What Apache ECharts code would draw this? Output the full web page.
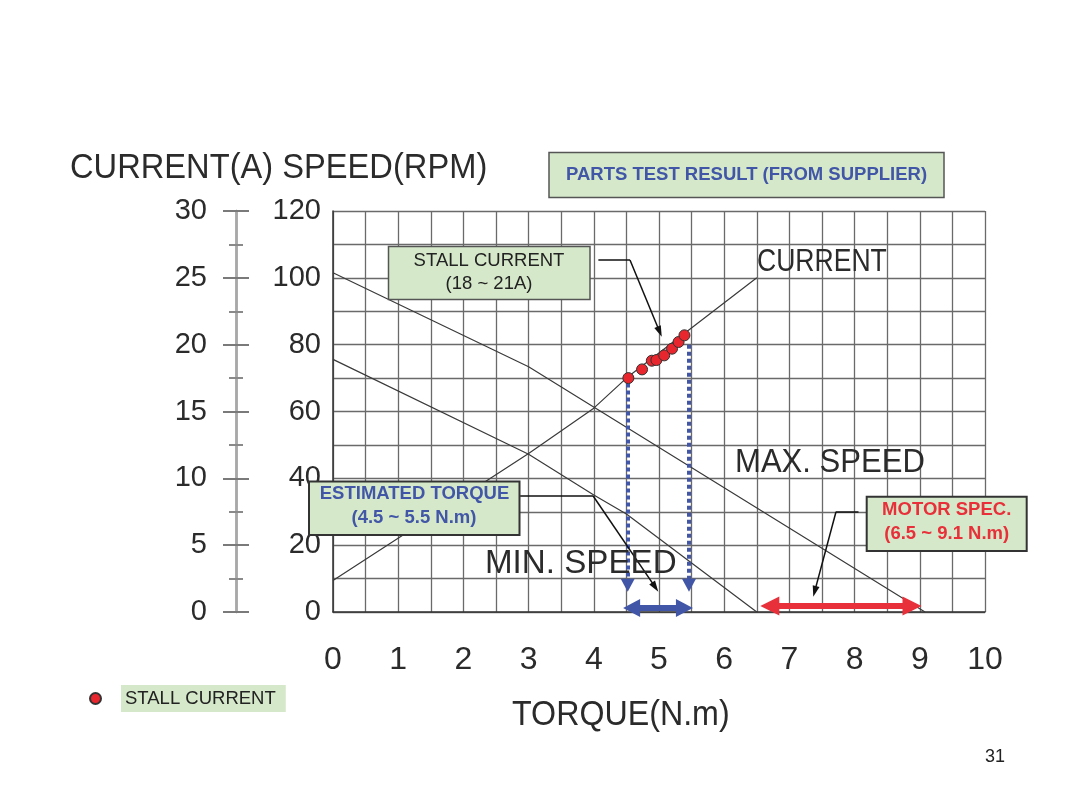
<!DOCTYPE html>
<html><head><meta charset="utf-8">
<script src="https://cdn.jsdelivr.net/npm/echarts@6/dist/echarts.min.js"></script>
<style>html,body{margin:0;padding:0;background:#fff}#c{width:1080px;height:810px}</style>
</head><body><div id="c"></div>
<script>
// ---------- data ----------
const torqueTicks = [0,1,2,3,4,5,6,7,8,9,10];
const currentTicks = [0,5,10,15,20,25,30];
const speedTicks = [0,20,40,60,80,100,120];

const currentTorque = [0, 3, 4, 4.5, 6.5];
const currentAmp    = [2.35, 11.85, 15.25, 17.5, 25.0];
const maxSpeedTorque = [0, 3, 9.08];
const maxSpeedRpm    = [101.5, 73.4, 0];
const minSpeedTorque = [0, 3, 4, 4.5, 6.5];
const minSpeedRpm    = [75.6, 47.2, 35.0, 29.3, 0];
const stallTorque = [4.53, 4.74, 4.89, 4.96, 5.08, 5.20, 5.30, 5.39];
const stallAmp    = [17.5, 18.15, 18.8, 18.85, 19.2, 19.7, 20.2, 20.7];

const dropTorque = [4.52, 5.46];
const dropTopAmp = [17.1, 20.0];
const dropBottomAmp = 2.0;
const estArrowTorque = [4.58, 5.39];
const estArrowAmp = 0.3;
const specArrowTorque = [6.70, 8.88];
const specArrowAmp = 0.45;

// leader lines [torque, current]
const leaderStall = [[4.07, 26.33], [4.555, 26.33], [5.01, 20.97]];
const leaderEst   = [[2.87, 8.68], [3.99, 8.68], [4.942, 1.86]];
const leaderSpec  = [[8.06, 7.50], [7.715, 7.50], [7.388, 1.54]];

// ---------- styles ----------
const CAD = "'Liberation Sans', Arial, sans-serif";
const ARIAL = "'Liberation Sans', Arial, sans-serif";
const BOXFILL = '#d5e8c9';
const BLUE = '#4256a8';
const RED = '#e8303a';
const zip = (a, b) => a.map((v, i) => [v, b[i]]);

function mlSeries(lines, color, width, type, symbol, symbolSize) {
  return {
    type: 'line', data: [], yAxisIndex: 0, silent: true,
    markLine: {
      silent: true, animation: false, symbol: symbol, symbolSize: symbolSize,
      label: { show: false }, emphasis: { disabled: true },
      lineStyle: { color: color, width: width, type: type, opacity: 1 },
      data: lines.map(l => [{ coord: l[0] }, { coord: l[1] }])
    }
  };
}

const chart = echarts.init(document.getElementById('c'));

function cadText(str, x, y, size, sx, align) {
  return { type: 'text', x: x, y: y, scaleX: sx, z: 50,
    style: { text: str, font: size + 'px ' + CAD, fill: '#2b2b2b', align: align || 'left', verticalAlign: 'middle' } };
}
function box(x, y, w, h, stroke, lw, lines, color, weight, size) {
  const els = [{ type: 'rect', z: 100, shape: { x: x, y: y, width: w, height: h },
    style: { fill: BOXFILL, stroke: stroke, lineWidth: lw } }];
  lines.forEach(l => els.push({ type: 'text', z: 101, x: l[1], y: l[2],
    style: { text: l[0], font: weight + ' ' + size + 'px ' + ARIAL, fill: color, align: 'center', verticalAlign: 'middle' } }));
  return els;
}

const option = {
  animation: false,
  backgroundColor: '#ffffff',
  grid: { left: 333, top: 211, width: 652, height: 401 },
  legend: {
    data: ['STALL CURRENT'], left: 89, top: 685, padding: 0,
    icon: 'circle', itemWidth: 11, itemHeight: 11,
    formatter: n => '{g|}{b|' + n + '}',
    textStyle: { fontFamily: ARIAL, fontSize: 18.5, color: '#222', rich: {
      g: { width: 15 },
      b: { fontFamily: ARIAL, fontSize: 18.5, color: '#222', backgroundColor: BOXFILL, padding: [4, 10, 4, 4], lineHeight: 18 }
    } }
  },
  xAxis: {
    type: 'value', min: 0, max: 10, interval: 0.5,
    axisLine: { show: true, onZero: false, lineStyle: { color: '#333', width: 1.5 } },
    axisTick: { show: false },
    axisLabel: { margin: 32, fontFamily: CAD, fontSize: 32, color: '#2b2b2b',
      formatter: v => torqueTicks.includes(v) ? String(v) : '' },
    splitLine: { show: true, lineStyle: { color: '#6a6a6a', width: 1.3 } }
  },
  yAxis: [
    { // current axis (outer)
      type: 'value', position: 'left', offset: 97, min: 0, max: 30, interval: 5,
      axisLine: { show: true, onZero: false, lineStyle: { color: '#a8a8a8', width: 2.5 } },
      axisTick: { show: true, length: 13, lineStyle: { color: '#7a7a7a', width: 2 } },
      minorTick: { show: true, splitNumber: 2, length: 7, lineStyle: { color: '#8a8a8a', width: 2 } },
      axisLabel: { margin: 29, fontFamily: CAD, fontSize: 29, color: '#2b2b2b',
        formatter: v => currentTicks.includes(v) ? String(v) : '' },
      splitLine: { show: false }
    },
    { // speed axis
      type: 'value', position: 'left', offset: 0, min: 0, max: 120, interval: 10,
      axisLine: { show: true, onZero: false, lineStyle: { color: '#333', width: 1.5 } },
      axisTick: { show: false },
      axisLabel: { margin: 12, fontFamily: CAD, fontSize: 29, color: '#2b2b2b',
        formatter: v => speedTicks.includes(v) ? String(v) : '' },
      splitLine: { show: true, lineStyle: { color: '#6a6a6a', width: 1.3 } }
    },
    { // current axis inner ticks
      type: 'value', position: 'left', offset: 97, min: 0, max: 30, interval: 5,
      axisLine: { show: true, onZero: false, lineStyle: { color: '#a8a8a8', width: 2.5 } },
      axisTick: { show: true, inside: true, length: 13, lineStyle: { color: '#7a7a7a', width: 2 } },
      minorTick: { show: true, splitNumber: 2, length: 7, lineStyle: { color: '#8a8a8a', width: 2 } },
      axisLabel: { show: false }, splitLine: { show: false }
    }
  ],
  series: [
    { name: 'CURRENT', type: 'line', yAxisIndex: 0, data: zip(currentTorque, currentAmp),
      symbol: 'none', silent: true, lineStyle: { color: '#3a3a3a', width: 1.2 } },
    { name: 'MAX. SPEED', type: 'line', yAxisIndex: 1, data: zip(maxSpeedTorque, maxSpeedRpm),
      symbol: 'none', silent: true, lineStyle: { color: '#3a3a3a', width: 1.2 } },
    { name: 'MIN. SPEED', type: 'line', yAxisIndex: 1, data: zip(minSpeedTorque, minSpeedRpm),
      symbol: 'none', silent: true, lineStyle: { color: '#3a3a3a', width: 1.2 } },
    mlSeries(dropTorque.map((t, i) => [[t, dropTopAmp[i]], [t, dropBottomAmp]]), BLUE, 4, [4, 3], ['none', 'triangle'], [14, 13]),
    mlSeries([[[estArrowTorque[0], estArrowAmp], [estArrowTorque[1], estArrowAmp]]], BLUE, 6, 'solid', ['triangle', 'triangle'], [18, 17]),
    mlSeries([[[specArrowTorque[0], specArrowAmp], [specArrowTorque[1], specArrowAmp]]], RED, 6, 'solid', ['triangle', 'triangle'], [19, 19]),
    mlSeries([[leaderStall[0], leaderStall[1]], [leaderEst[0], leaderEst[1]], [leaderSpec[0], leaderSpec[1]]], '#111', 1.5, 'solid', 'none', 0),
    mlSeries([[leaderStall[1], leaderStall[2]], [leaderEst[1], leaderEst[2]], [leaderSpec[1], leaderSpec[2]]], '#111', 1.5, 'solid', ['none', 'triangle'], [7, 11]),
    { name: 'STALL CURRENT', type: 'scatter', yAxisIndex: 0, data: zip(stallTorque, stallAmp), z: 10,
      symbol: 'circle', symbolSize: 11,
      itemStyle: { color: '#e8262d', borderColor: '#333', borderWidth: 1, opacity: 1 } }
  ],
  graphic: { elements: [].concat(
    [cadText('CURRENT(A) SPEED(RPM)', 70, 168, 35, 0.933),
     cadText('TORQUE(N.m)', 512, 715, 35, 0.92),
     cadText('CURRENT', 757, 262, 32, 0.83),
     cadText('MAX. SPEED', 735, 463, 32.5, 0.956),
     cadText('MIN. SPEED', 485, 564, 32.5, 1.02),
     { type: 'text', x: 1005, y: 757, z: 50, style: { text: '31', font: '18px ' + ARIAL, fill: '#222', align: 'right', verticalAlign: 'middle' } }],
    box(549, 152.5, 395, 45, '#555', 1.5, [['PARTS TEST RESULT (FROM SUPPLIER)', 746.5, 175]], BLUE, 'bold', 18.5),
    box(388.5, 246.5, 201.5, 53, '#555', 1.5, [['STALL CURRENT', 489, 261], ['(18 ~ 21A)', 489, 284]], '#222', 'normal', 18.5),
    box(309, 481.5, 210.5, 53.5, '#333', 2, [['ESTIMATED TORQUE', 414.5, 494], ['(4.5 ~ 5.5 N.m)', 414, 518]], BLUE, 'bold', 18.5),
    box(866.7, 496.7, 160, 54.3, '#333', 2, [['MOTOR SPEC.', 946.7, 510], ['(6.5 ~ 9.1 N.m)', 946.7, 533.5]], RED, 'bold', 18.5)
  ) }
};
chart.setOption(option);
</script>
</body></html>
